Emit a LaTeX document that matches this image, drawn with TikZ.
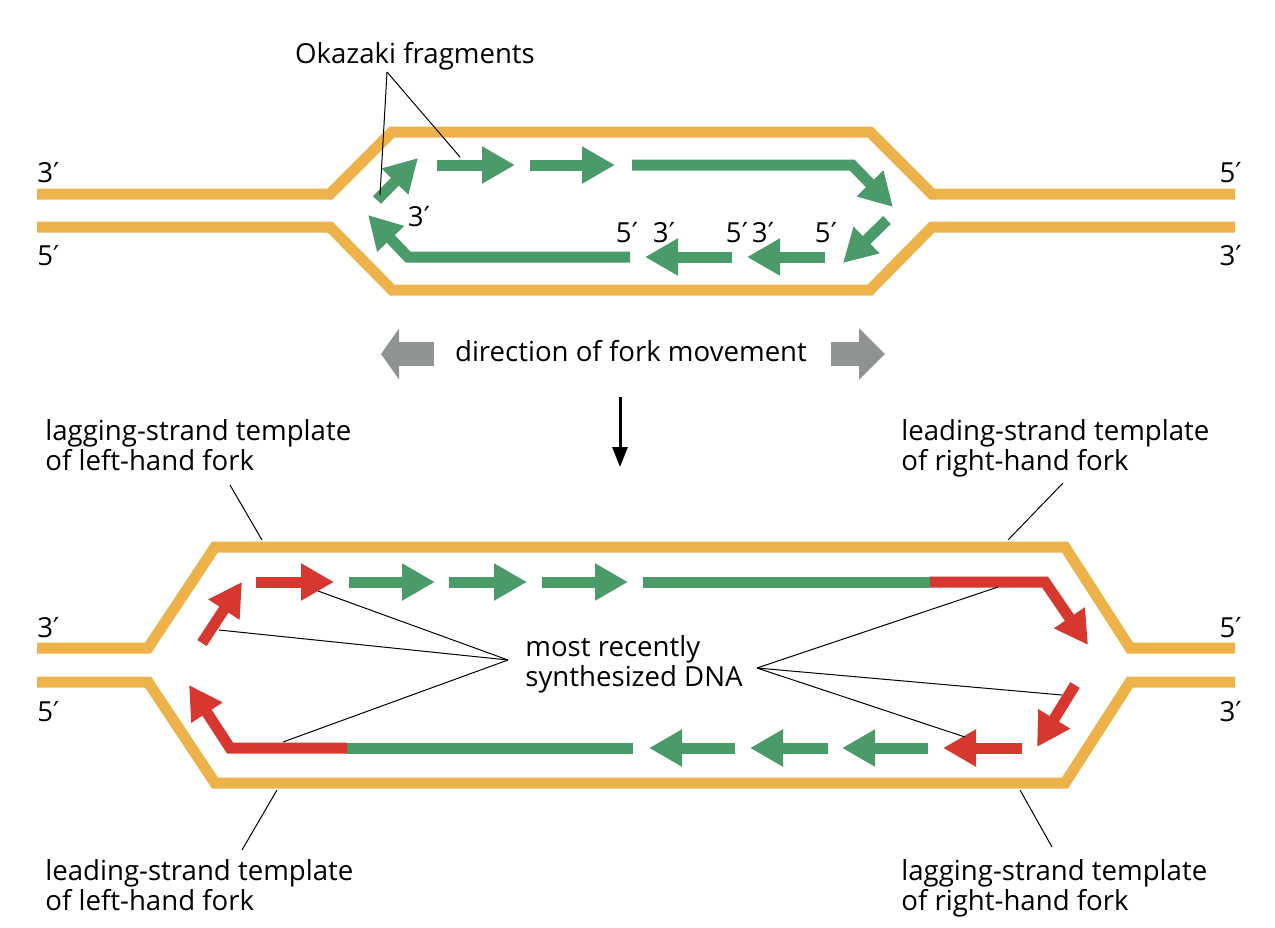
\documentclass[tikz,border=0pt]{standalone}
\usepackage{fontspec}
\setmainfont{Open Sans}
\newfontfamily\primefont{DejaVu Sans}
\newcommand{\prm}{{\primefont ′}}
\usetikzlibrary{arrows.meta}
\definecolor{dnaorange}{RGB}{238,178,74}
\definecolor{dnagreen}{RGB}{74,154,106}
\definecolor{dnared}{RGB}{214,56,48}
\definecolor{forkgray}{RGB}{143,148,146}
\tikzset{
  dna/.style={draw=dnaorange, line width=5.5pt, line join=miter},
  garrow/.style={draw=dnagreen, line width=5.5pt, line join=miter, -{Triangle[length=16.5pt,width=17.5pt]}},
  rarrow/.style={draw=dnared, line width=5.5pt, line join=miter, -{Triangle[length=16.5pt,width=17.5pt]}},
  gline/.style={draw=dnagreen, line width=5.5pt},
  rline/.style={draw=dnared, line width=5.5pt},
  lbl/.style={font=\fontsize{13.8}{15}\selectfont, inner sep=0pt, text=black},
  leader/.style={draw=black, line width=0.5pt},
}
\begin{document}
\begin{tikzpicture}[x=0.5pt,y=-0.5pt]
\useasboundingbox (0,0) rectangle (1275,927);
\fill[white] (0,0) rectangle (1275,927);

% ---------- top: replication bubble ----------
\draw[dna] (37,194) -- (330,194) -- (392,132) -- (870,132) -- (932,194) -- (1235,194);
\draw[dna] (37,227) -- (330,227) -- (392,290) -- (870,290) -- (932,227) -- (1235,227);

\draw[garrow] (377,200) -- (418,158);
\draw[garrow] (437,165) -- (515,165);
\draw[garrow] (530,165) -- (615,165);
\draw[garrow] (632,165) -- (852,165) -- (893,207);
\draw[garrow] (887,220) -- (843,263);
\draw[garrow] (825,257) -- (747,257);
\draw[garrow] (732,257) -- (645,257);
\draw[garrow] (630,257) -- (408,257) -- (368,215);

\node[lbl, anchor=base west] (t3l) at (37,182) {3\prm};
\node[lbl, anchor=base west] (t5l) at (37,265) {5\prm};
\node[lbl, anchor=base east] (t5r) at (1242,182) {5\prm};
\node[lbl, anchor=base east] (t3r) at (1242,265) {3\prm};

\node[lbl, anchor=base] (i3a) at (419,226) {3\prm};
\node[lbl, anchor=base] (i5a) at (627,242) {5\prm};
\node[lbl, anchor=base] (i3b) at (664,242) {3\prm};
\node[lbl, anchor=base] (i5b) at (737,242) {5\prm};
\node[lbl, anchor=base] (i3c) at (763,242) {3\prm};
\node[lbl, anchor=base] (i5c) at (826,242) {5\prm};

\node[lbl, anchor=base] (okazaki) at (415,63) {Okazaki fragments};
\coordinate (okapex) at (387,72);
\coordinate (ok1) at (380,195);
\coordinate (ok2) at (460,157);
\draw[leader] (okapex) -- (ok1);
\draw[leader] (okapex) -- (ok2);

% ---------- fork movement ----------
\node[lbl, anchor=base] (forkdir) at (631,361) {direction of fork movement};
\draw[draw=forkgray, line width=12pt, -{Triangle[length=9pt,width=25pt]}] (434,354) -- (381,354);
\draw[draw=forkgray, line width=12pt, -{Triangle[length=13pt,width=25pt]}] (831,354) -- (885,354);
\coordinate (downA) at (620,397);
\coordinate (downB) at (620,467);
\draw[line width=1.5pt, -{Triangle[length=10pt,width=7.5pt]}] (downA) -- (downB);

% ---------- bottom: later bubble ----------
\draw[dna] (37,648) -- (148,648) -- (215,547) -- (1065,547) -- (1130,648) -- (1235,648);
\draw[dna] (37,682) -- (148,682) -- (215,783) -- (1065,783) -- (1130,682) -- (1235,682);

\draw[rarrow] (202,643) -- (242,582);
\draw[rarrow] (256,582) -- (334,582);
\draw[garrow] (349,582) -- (435,582);
\draw[garrow] (449,582) -- (527,582);
\draw[garrow] (542,582) -- (628,582);
\draw[gline] (643,582) -- (930,582);
\draw[rarrow] (930,582) -- (1045,582) -- (1088,645);
\draw[rarrow] (1075,685) -- (1037,747);
\draw[rarrow] (1022,748) -- (943,748);
\draw[garrow] (928,748) -- (842,748);
\draw[garrow] (828,748) -- (750,748);
\draw[garrow] (735,748) -- (649,748);
\draw[gline] (633,748) -- (347,748);
\draw[rarrow] (347,748) -- (230,748) -- (189,685);

\node[lbl, anchor=base west] (b3l) at (37,637) {3\prm};
\node[lbl, anchor=base west] (b5l) at (37,721) {5\prm};
\node[lbl, anchor=base east] (b5r) at (1242,637) {5\prm};
\node[lbl, anchor=base east] (b3r) at (1242,721) {3\prm};

\node[lbl, anchor=north west, align=left] (recent) at (525,635) {most recently\\synthesized DNA};
\coordinate (apexL) at (508,660);
\coordinate (apexR) at (757,668);
\coordinate (mL1) at (219,630);
\coordinate (mL2) at (318,591);
\coordinate (mL3) at (283,742);
\coordinate (mR1) at (998,587);
\coordinate (mR2) at (1062,695);
\coordinate (mR3) at (965,737);
\draw[leader] (apexL) -- (mL1);
\draw[leader] (apexL) -- (mL2);
\draw[leader] (apexL) -- (mL3);
\draw[leader] (apexR) -- (mR1);
\draw[leader] (apexR) -- (mR2);
\draw[leader] (apexR) -- (mR3);

\node[lbl, anchor=north west, align=left] (lagL) at (45,419) {lagging-strand template\\of left-hand fork};
\node[lbl, anchor=north west, align=left] (leadR) at (901,419) {leading-strand template\\of right-hand fork};
\node[lbl, anchor=north west, align=left] (leadL) at (45,859) {leading-strand template\\of left-hand fork};
\node[lbl, anchor=north west, align=left] (lagR) at (901,859) {lagging-strand template\\of right-hand fork};

\coordinate (lagLa) at (230,485);
\coordinate (lagLb) at (262,540);
\coordinate (leadRa) at (1063,483);
\coordinate (leadRb) at (1008,540);
\coordinate (leadLa) at (242,850);
\coordinate (leadLb) at (277,790);
\coordinate (lagRa) at (1052,847);
\coordinate (lagRb) at (1020,790);
\draw[leader] (lagLa) -- (lagLb);
\draw[leader] (leadRa) -- (leadRb);
\draw[leader] (leadLa) -- (leadLb);
\draw[leader] (lagRa) -- (lagRb);
\end{tikzpicture}
\end{document}
